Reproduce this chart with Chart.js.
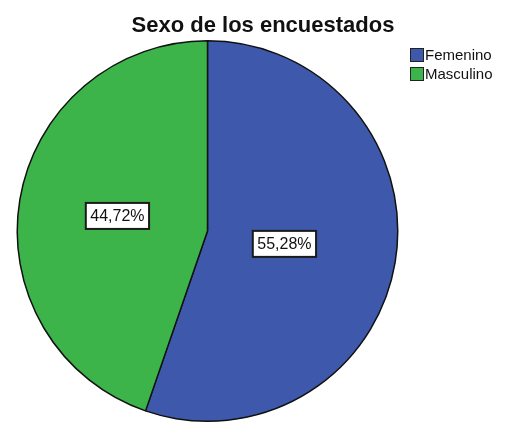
<!DOCTYPE html>
<html lang="es">
<head>
    <meta charset="UTF-8">
    <title>Sexo de los encuestados</title>
    <script src="https://cdn.jsdelivr.net/npm/chart.js"></script>
    <style>
        body { margin: 0; background: #fff; }
    </style>
</head>
<body>
    <canvas id="myChart" width="511" height="425"></canvas>

    <script>
        // chart data
        const categories = ['Femenino', 'Masculino'];
        const percentages = [55.28, 44.72];
        const sliceColors = ['#3e58ac', '#3cb44a'];
        const chartTitle = 'Sexo de los encuestados';

        // title drawn by hand so it is not pushed over the pie
        const topTitle = {
            id: 'topTitle',
            afterDraw(chart) {
                const ctx = chart.ctx;
                ctx.save();
                ctx.font = 'bold 22px Arial';
                ctx.fillStyle = '#111';
                ctx.textAlign = 'center';
                ctx.textBaseline = 'alphabetic';
                ctx.fillText(chartTitle, 263, 32);
                ctx.restore();
            }
        };

        // white boxes with the percentage inside each slice
        const sliceLabels = {
            id: 'sliceLabels',
            afterDatasetsDraw(chart) {
                const ctx = chart.ctx;
                const arcs = chart.getDatasetMeta(0).data;
                const dist = [0.41, 0.48];
                ctx.save();
                ctx.font = '16px Arial';
                ctx.textAlign = 'center';
                ctx.textBaseline = 'middle';
                arcs.forEach((arc, i) => {
                    const mid = (arc.startAngle + arc.endAngle) / 2;
                    const x = arc.x + Math.cos(mid) * arc.outerRadius * dist[i];
                    const y = arc.y + Math.sin(mid) * arc.outerRadius * dist[i];
                    const txt = percentages[i].toFixed(2).replace('.', ',') + '%';
                    const w = ctx.measureText(txt).width + 9;
                    const h = 26;
                    ctx.fillStyle = '#fff';
                    ctx.fillRect(x - w / 2, y - h / 2, w, h);
                    ctx.strokeStyle = '#1a1a1a';
                    ctx.lineWidth = 2;
                    ctx.strokeRect(x - w / 2, y - h / 2, w, h);
                    ctx.fillStyle = '#111';
                    ctx.fillText(txt, x, y + 1);
                });
                ctx.restore();
            }
        };

        // small legend in the top right corner
        const cornerLegend = {
            id: 'cornerLegend',
            afterDraw(chart) {
                const ctx = chart.ctx;
                ctx.save();
                ctx.font = '15px Arial';
                ctx.textBaseline = 'middle';
                categories.forEach((name, i) => {
                    const y = 55 + i * 19;
                    ctx.fillStyle = sliceColors[i];
                    ctx.fillRect(410, y - 7, 14, 14);
                    ctx.strokeStyle = '#222';
                    ctx.lineWidth = 1;
                    ctx.strokeRect(410.5, y - 6.5, 13, 13);
                    ctx.fillStyle = '#111';
                    ctx.fillText(name, 425, y + 1);
                });
                ctx.restore();
            }
        };

        new Chart(document.getElementById('myChart'), {
            type: 'pie',
            data: {
                labels: categories,
                datasets: [{
                    data: percentages,
                    backgroundColor: sliceColors,
                    borderColor: '#111',
                    borderWidth: 1.5
                }]
            },
            options: {
                responsive: false,
                animation: false,
                layout: { padding: { left: 15, right: 111, top: 40, bottom: 3 } },
                plugins: {
                    legend: { display: false },
                    tooltip: { enabled: false },
                    title: { display: false }
                }
            },
            plugins: [sliceLabels, cornerLegend, topTitle]
        });
    </script>
</body>
</html>
